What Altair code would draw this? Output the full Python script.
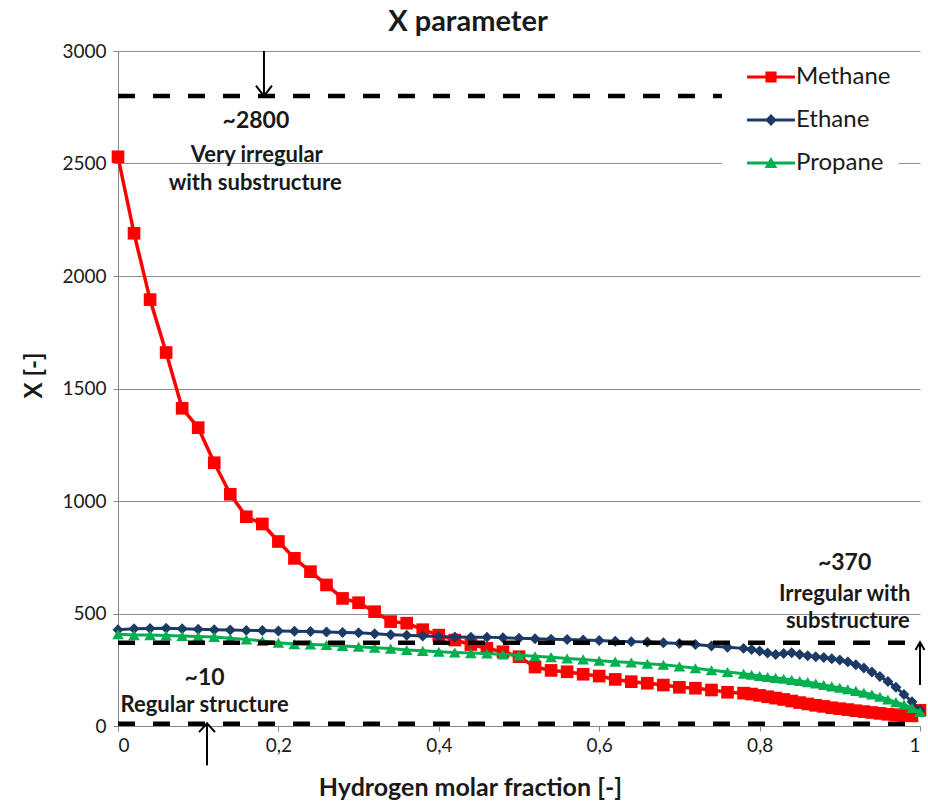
import altair as alt
import pandas as pd

FONT = "Lato"
TXT = "#1a1a1a"

series_names = ["Methane", "Ethane", "Propane"]
series_colors = ["#FF0000", "#1B3A66", "#00B050"]
marker_shapes = ["square", "diamond", "triangle-up"]
marker_sizes = [160, 120, 135]
line_widths = [3.5, 3, 3]

x_fraction = [0.00, 0.02, 0.04, 0.06, 0.08, 0.10, 0.12, 0.14, 0.16, 0.18,
              0.20, 0.22, 0.24, 0.26, 0.28, 0.30, 0.32, 0.34, 0.36, 0.38,
              0.40, 0.42, 0.44, 0.46, 0.48, 0.50, 0.52, 0.54, 0.56, 0.58,
              0.60, 0.62, 0.64, 0.66, 0.68, 0.70, 0.72, 0.74, 0.76, 0.78,
              0.79, 0.80, 0.81, 0.82, 0.83, 0.84, 0.85, 0.86, 0.87, 0.88,
              0.89, 0.90, 0.91, 0.92, 0.93, 0.94, 0.95, 0.96, 0.97, 0.98,
              0.99, 1.00]

methane = [2530, 2190, 1895, 1660, 1412, 1326, 1170, 1030, 930, 898,
           820, 745, 686, 627, 567, 548, 508, 464, 457, 428,
           404, 382, 362, 345, 330, 308, 262, 247, 241, 230,
           222, 207, 197, 190, 182, 172, 168, 160, 150, 146,
           142, 136, 130, 124, 118, 111, 104, 98, 92, 87,
           81, 77, 73, 68, 64, 60, 56, 52, 50, 47,
           45, 70]

ethane = [428, 432, 433, 434, 432, 430, 428, 427, 425, 424,
          422, 421, 420, 418, 416, 414, 410, 406, 403, 400,
          398, 396, 394, 395, 392, 390, 388, 386, 384, 382,
          380, 377, 375, 373, 370, 367, 362, 356, 350, 345,
          340, 333, 324, 318, 322, 326, 318, 312, 308, 304,
          299, 293, 285, 272, 258, 240, 220, 198, 172, 140,
          108, 70]

propane = [408, 404, 404, 402, 400, 398, 396, 390, 385, 378,
           370, 364, 362, 360, 356, 352, 348, 344, 338, 334,
           330, 327, 324, 322, 318, 314, 310, 306, 300, 296,
           290, 286, 282, 277, 272, 265, 257, 248, 240, 232,
           228, 222, 218, 214, 210, 205, 200, 195, 189, 182,
           176, 170, 163, 156, 148, 140, 130, 118, 106, 95,
           80, 62]

# reference levels (dashed lines) and where each one ends
level_values = [2800, 370, 10]
level_end = [0.753, 1.0, 1.0]

# annotations
note_text = ["~2800", "Very irregular", "with substructure",
             "~370", "Irregular with", "substructure",
             "~10", "Regular structure"]
note_x = [0.172, 0.173, 0.171, 0.906, 0.906, 0.910, 0.108, 0.108]
note_y = [2689, 2538, 2413, 724, 587, 467, 213, 93]
note_size = [23, 22, 22, 23, 22, 22, 23, 22]

# arrows: x, start, tip
arrow_x = [0.182, 0.111, 1.0]
arrow_from = [3000, -175, 182]
arrow_to = [2800, 12, 372]

series_values = [methane, ethane, propane]

x_axis = alt.Axis(
    values=[0, 0.2, 0.4, 0.6, 0.8, 1.0],
    labelExpr="datum.value == 0 ? '0' : datum.value == 1 ? '1' : replace(format(datum.value, '.1f'), '.', ',')",
    grid=False, domainColor="#868686", tickColor="#868686", tickSize=5,
    labelFont=FONT, labelFontSize=19, labelColor=TXT, labelPadding=5,
    titleFont=FONT, titleFontSize=25, titleFontWeight="bold", titleColor=TXT,
    titleX=352, titleY=69, titleBaseline="alphabetic", titleAlign="center",
)
y_axis = alt.Axis(
    values=[0, 500, 1000, 1500, 2000, 2500, 3000], format="d",
    grid=True, gridColor="#8c8c8c", gridWidth=1,
    domainColor="#868686", tickColor="#868686", tickSize=5,
    labelFont=FONT, labelFontSize=19, labelColor=TXT, labelPadding=7,
    titleFont=FONT, titleFontSize=24, titleFontWeight="bold", titleColor=TXT,
    titleAngle=-90, titleX=-77, titleY=324, titleBaseline="alphabetic", titleAlign="center",
)

XS = alt.Scale(domain=[0, 1], nice=False, zero=False)
YS = alt.Scale(domain=[0, 3000], nice=False, zero=False)


def X(field="x"):
    return alt.X(f"{field}:Q", scale=XS, axis=x_axis, title="Hydrogen molar fraction [-]")


def Y(field="y"):
    return alt.Y(f"{field}:Q", scale=YS, axis=y_axis, title="X [-]")


layers = []
for name, col, shp, msz, lw, vals in zip(series_names, series_colors, marker_shapes,
                                         marker_sizes, line_widths, series_values):
    d = pd.DataFrame({"x": x_fraction, "y": vals})
    layers.append(alt.Chart(d).mark_line(color=col, strokeWidth=lw, strokeJoin="round")
                  .encode(x=X(), y=Y()))
    layers.append(alt.Chart(d).mark_point(color=col, filled=True, shape=shp, size=msz, opacity=1)
                  .encode(x=X(), y=Y()))

# dashed level lines
lev = pd.DataFrame({"x": [0.0] * len(level_values), "x2": level_end, "y": level_values})
layers.append(alt.Chart(lev).mark_rule(color="black", strokeWidth=4.5, strokeDash=[17, 18])
              .encode(x=X(), x2="x2:Q", y=Y()))

# arrows
arr = pd.DataFrame({"x": arrow_x, "y": arrow_from, "y2": arrow_to})
layers.append(alt.Chart(arr).mark_rule(color="black", strokeWidth=2)
              .encode(x=X(), y=Y(), y2="y2:Q"))
head_shapes = ["M-1,-1.3L0,0L1,-1.3", "M-1,1.1L0,0L1,1.1", "M-1,1.7L0,0L1,1.7"]
head_sizes = [256, 256, 81]
for hx, hy, hs, hsz in zip(arrow_x, arrow_to, head_shapes, head_sizes):
    hd = pd.DataFrame({"x": [hx], "y": [hy]})
    layers.append(alt.Chart(hd).mark_point(shape=hs, size=hsz, filled=False, stroke="black",
                                            strokeWidth=2, opacity=1)
                  .encode(x=X(), y=Y()))

# annotations
for fs in sorted(set(note_size)):
    idx = [i for i, s in enumerate(note_size) if s == fs]
    nd = pd.DataFrame({"x": [note_x[i] for i in idx], "y": [note_y[i] for i in idx],
                       "t": [note_text[i] for i in idx]})
    layers.append(alt.Chart(nd).mark_text(font=FONT, fontSize=fs, fontWeight="bold", color=TXT,
                                           align="center", baseline="middle")
                  .encode(x=X(), y=Y(), text="t:N"))

# legend carrier layer (clipped, invisible in plot)
legend_paths = [
    "M-1.71,-0.11H1.71V0.11H-1.71Z M-0.4,-0.4H0.4V0.4H-0.4Z",
    "M-1.71,-0.11H1.71V0.11H-1.71Z M0,-0.42L0.42,0L0,0.42L-0.42,0Z",
    "M-1.71,-0.11H1.71V0.11H-1.71Z M0,-0.42L0.45,0.36L-0.45,0.36Z",
]
leg = alt.Legend(orient="none", legendX=604, legendY=4, fillColor="white", padding=8,
                 title=None, labelFont=FONT, labelFontSize=24, labelColor=TXT,
                 labelExpr="datum.label + '        '", labelLimit=300,
                 symbolSize=784, symbolStrokeWidth=0, symbolOffset=27, labelOffset=11,
                 rowPadding=17, symbolOpacity=1, zindex=2)
ld = pd.DataFrame({"series": series_names})
layers.append(alt.Chart(ld).mark_point(filled=True, clip=True, opacity=1, size=784)
              .encode(x=alt.value(-200), y=alt.value(-200),
                      color=alt.Color("series:N", scale=alt.Scale(domain=series_names, range=series_colors), legend=leg),
                      shape=alt.Shape("series:N", scale=alt.Scale(domain=series_names, range=legend_paths), legend=leg)))

chart = alt.layer(*layers).properties(
    width=802, height=675,
    title=alt.TitleParams("X parameter", font=FONT, fontSize=29, fontWeight="bold", color=TXT,
                          anchor="middle", dx=-51, offset=-18, baseline="alphabetic"),
    autosize=alt.AutoSizeParams(type="none"),
    padding={"left": 118, "top": 51, "right": 8, "bottom": 79},
).configure_view(stroke=None)

chart.save("out.html", embed_options={"renderer": "svg", "actions": False})
